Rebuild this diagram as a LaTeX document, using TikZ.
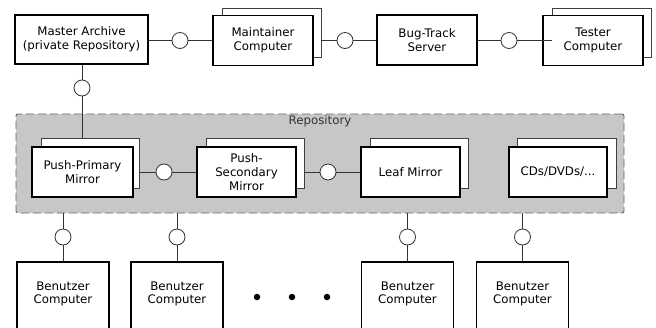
\documentclass[tikz,border=0pt]{standalone}
\usepackage{fontspec}
\setmainfont{DejaVu Sans}
\begin{document}
\begin{tikzpicture}[x=1pt,y=-1pt,
  font=\fontsize{11.8}{13.8}\selectfont,
  comp/.style={draw=black,line width=1.8pt,fill=white,inner sep=0pt,align=center,
    minimum width=100pt,minimum height=50pt},
  benbox/.style={draw=black,line width=1.8pt,fill=white,inner sep=0pt,
    minimum width=92pt,minimum height=90pt},
  bentext/.style={align=center,inner sep=0pt},
  shadowbox/.style={draw=black!75,line width=0.9pt,fill=white},
  conn/.style={draw=black!80,line width=0.8pt},
  iface/.style={circle,draw=black!80,line width=0.8pt,fill=white,minimum size=16pt,inner sep=0pt},
  dot/.style={circle,fill=black,minimum size=6.5pt,inner sep=0pt}]
\useasboundingbox (0,0) rectangle (656,327);
\clip (0,0) rectangle (656,327);
% repository area
\node[draw=black!60,dash pattern=on 8pt off 4pt,line width=0.9pt,fill=black!22,
  rounded corners=2pt,minimum width=608pt,minimum height=99pt,inner sep=0pt] (repo) at (320,163.5) {};
\node[text=black!80] (repolabel) at (320,121) {Repository};
% shadows
\draw[shadowbox] (222,8) rectangle (321,57);
\draw[shadowbox] (552,8) rectangle (651,57);
\draw[shadowbox] (41,138) rectangle (139,188);
\draw[shadowbox] (206,138) rectangle (304,188);
\draw[shadowbox] (370,138) rectangle (468,188);
\draw[shadowbox] (517,138) rectangle (616,188);
\coordinate (ms) at (321,40);
\coordinate (ts) at (552,40);
\coordinate (pps) at (139,172);
\coordinate (pss) at (304,172);
\coordinate (ppt) at (82,138);
% top row
\node[comp,minimum width=133pt,minimum height=49pt] (master) at (81.5,39.5) {Master Archive\\(private Repository)};
\node[comp] (maint) at (263,40.5) {Maintainer\\Computer};
\node[comp] (bug) at (427,40) {Bug-Track\\Server};
\node[comp] (tester) at (593,40.5) {Tester\\Computer};
% repository row
\node[comp,minimum width=101pt] (pp) at (82.5,172) {Push-Primary\\Mirror};
\node[comp,minimum width=99pt] (ps) at (246.5,172) {Push-\\Secondary\\Mirror};
\node[comp,minimum width=99pt] (leaf) at (410.5,172) {Leaf Mirror};
\node[comp,minimum width=98pt] (cds) at (558,172) {CDs/DVDs/...};
% bottom row
\node[benbox] (b1) at (63,307) {};
\node[benbox] (b2) at (177,307) {};
\node[benbox] (b3) at (407.5,307) {};
\node[benbox] (b4) at (522.5,307) {};
\node[bentext] (t1) at (63,294) {Benutzer\\Computer};
\node[bentext] (t2) at (177,294) {Benutzer\\Computer};
\node[bentext] (t3) at (407.5,294) {Benutzer\\Computer};
\node[bentext] (t4) at (522.5,294) {Benutzer\\Computer};
\node[dot] (d1) at (257,297) {};
\node[dot] (d2) at (292,297) {};
\node[dot] (d3) at (327,297) {};
% interfaces
\node[iface] (i1) at (180,40.5) {};
\node[iface] (i2) at (345,40.5) {};
\node[iface] (i3) at (509,40.5) {};
\node[iface] (i4) at (82,88) {};
\node[iface] (i5) at (164,172) {};
\node[iface] (i6) at (328,172) {};
\node[iface] (i7) at (63,237) {};
\node[iface] (i8) at (177,237) {};
\node[iface] (i9) at (407.5,237) {};
\node[iface] (i10) at (522.5,237) {};
% connectors
\draw[conn] (master.east |- i1) -- (i1) -- (maint.west |- i1);
\draw[conn] (ms |- i2) -- (i2) -- (bug.west |- i2);
\draw[conn] (bug.east |- i3) -- (i3) -- (ts |- i3);
\draw[conn] (master.south -| i4) -- (i4) -- (ppt);
\draw[conn] (pps) -- (i5) -- (ps.west);
\draw[conn] (pss) -- (i6) -- (leaf.west);
\draw[conn] (repo.south -| i7) -- (i7) -- (b1.north);
\draw[conn] (repo.south -| i8) -- (i8) -- (b2.north);
\draw[conn] (repo.south -| i9) -- (i9) -- (b3.north);
\draw[conn] (repo.south -| i10) -- (i10) -- (b4.north);
\end{tikzpicture}
\end{document}
